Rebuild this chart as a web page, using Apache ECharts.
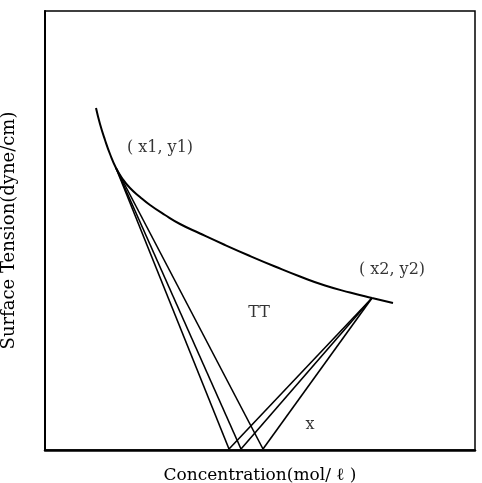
<!DOCTYPE html>
<html><head><meta charset="utf-8">
<script src="https://cdn.jsdelivr.net/npm/echarts@6/dist/echarts.min.js"></script>
<style>html,body{margin:0;padding:0;background:#fff}#c{width:482px;height:483px}</style>
</head><body><div id="c"></div>
<script>
// Surface tension curve (arbitrary units: concentration, tension)
const curveX = [51, 55, 60, 65, 71, 77, 85, 95, 105, 120, 135, 155, 180, 205, 230, 255, 280, 305, 327, 348];
const curveY = [342, 326, 310, 296, 282, 272, 262, 253, 245, 235, 226, 216.5, 205, 194, 183.5, 173.5, 164.5, 157.5, 152, 147];
// tangent points
const point1 = [71, 282];
const point2 = [327, 152];
// intersections of tangent lines with the concentration axis
const baseX = [184, 196, 218];
const baseY = 1;
// annotation labels
const labelText = ['( x1, y1)', '( x2, y2)', 'TT', 'x'];
const labelX = [115, 347, 214, 265];
const labelY = [302, 180, 137, 25];

const serif = "'DejaVu Serif', serif";
const series = [];
series.push({
  type: 'line', data: curveX.map((x, i) => [x, curveY[i]]), smooth: 0.5,
  symbol: 'none', lineStyle: { color: '#000', width: 2 }, silent: true
});
baseX.forEach(bx => {
  series.push({ type: 'line', data: [point1, [bx, baseY]], symbol: 'none',
    lineStyle: { color: '#000', width: 1.6 }, silent: true });
  series.push({ type: 'line', data: [point2, [bx, baseY]], symbol: 'none',
    lineStyle: { color: '#000', width: 1.6 }, silent: true });
});
series.push({
  type: 'scatter', symbolSize: 0,
  data: labelText.map((t, i) => ({ value: [labelX[i], labelY[i]], name: t })),
  label: { show: true, position: 'inside', formatter: p => p.name,
    fontFamily: serif, fontSize: 16, color: '#000' }
});

const chart = echarts.init(document.getElementById('c'));
chart.setOption({
  animation: false,
  grid: { left: 45, right: 7, top: 11, bottom: 33, containLabel: false, outerBoundsMode: 'none',
    show: true, borderColor: '#000', borderWidth: 1.5 },
  xAxis: { type: 'value', min: 0, max: 430, name: 'Concentration(mol/ ℓ )', nameLocation: 'middle', nameGap: 17,
    nameTextStyle: { fontFamily: serif, fontSize: 17, color: '#000' },
    axisLine: { show: true, lineStyle: { color: '#000', width: 2.5 } },
    axisTick: { show: false }, axisLabel: { show: false }, splitLine: { show: false } },
  yAxis: { type: 'value', min: 0, max: 439, name: 'Surface Tension(dyne/cm)', nameLocation: 'middle', nameGap: 27,
    nameTextStyle: { fontFamily: serif, fontSize: 18, color: '#000' },
    axisLine: { show: true, lineStyle: { color: '#000', width: 2 } },
    axisTick: { show: false }, axisLabel: { show: false }, splitLine: { show: false } },
  series: series
});
</script></body></html>
